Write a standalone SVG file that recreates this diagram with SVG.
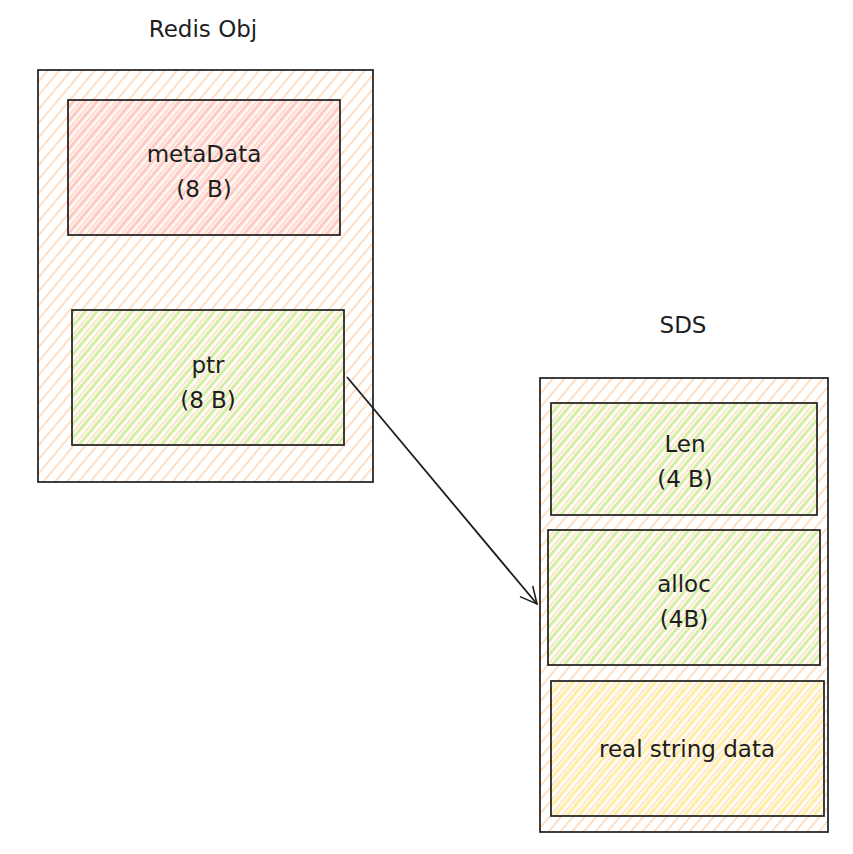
<svg xmlns="http://www.w3.org/2000/svg" width="853" height="854" viewBox="0 0 853 854">
<defs>
<pattern id="hOrange" width="9" height="9" patternUnits="userSpaceOnUse" patternTransform="rotate(40)">
<line x1="0" y1="0" x2="0" y2="9" stroke="#ffd7b5" stroke-width="3.2"/>
</pattern>
<pattern id="hRed" width="9" height="9" patternUnits="userSpaceOnUse" patternTransform="rotate(40)">
<rect width="9" height="9" fill="#fff5f2"/>
<line x1="0" y1="0" x2="0" y2="9" stroke="#ffd6c0" stroke-width="3"/>
<line x1="4.5" y1="0" x2="4.5" y2="9" stroke="#ffcac6" stroke-width="3"/>
</pattern>
<pattern id="hGreen" width="9" height="9" patternUnits="userSpaceOnUse" patternTransform="rotate(40)">
<rect width="9" height="9" fill="#fbfff4"/>
<line x1="0" y1="0" x2="0" y2="9" stroke="#ffdcc0" stroke-width="3"/>
<line x1="4.5" y1="0" x2="4.5" y2="9" stroke="#d4eea8" stroke-width="3"/>
</pattern>
<pattern id="hYellow" width="9" height="9" patternUnits="userSpaceOnUse" patternTransform="rotate(40)">
<rect width="9" height="9" fill="#fffdf2"/>
<line x1="0" y1="0" x2="0" y2="9" stroke="#ffdfc6" stroke-width="3"/>
<line x1="4.5" y1="0" x2="4.5" y2="9" stroke="#ffeda3" stroke-width="3"/>
</pattern>
<marker id="arr" viewBox="0 0 20 20" refX="18" refY="10" markerWidth="20" markerHeight="20" markerUnits="userSpaceOnUse" orient="auto">
<path d="M2 2 L18 10 L2 18" fill="none" stroke="#1e1e1e" stroke-width="1.6" stroke-linecap="round"/>
</marker>
</defs>
<style>
.box{stroke:#1e1e1e;stroke-width:1.7;}
.lbl{font-family:"DejaVu Sans","Liberation Sans",sans-serif;font-size:23px;fill:#1e1e1e;text-anchor:middle;}
.ttl{font-family:"DejaVu Sans","Liberation Sans",sans-serif;font-size:23px;fill:#1e1e1e;text-anchor:middle;}
</style>
<rect width="853" height="854" fill="#ffffff"/>
<g id="redis-obj">
<rect class="box" x="38" y="70" width="335" height="412" fill="url(#hOrange)"/>
<text class="ttl" x="203" y="37">Redis Obj</text>
</g>
<g id="metadata">
<rect class="box" x="68" y="100" width="272" height="135" fill="url(#hRed)"/>
<text class="lbl" x="204" y="162">metaData</text>
<text class="lbl" x="204" y="197">(8 B)</text>
</g>
<g id="ptr">
<rect class="box" x="72" y="310" width="272" height="135" fill="url(#hGreen)"/>
<text class="lbl" x="208" y="373">ptr</text>
<text class="lbl" x="208" y="408">(8 B)</text>
</g>
<g id="sds">
<rect class="box" x="540" y="378" width="288" height="454" fill="url(#hOrange)"/>
<text class="ttl" x="683" y="333">SDS</text>
</g>
<g id="len">
<rect class="box" x="551" y="403" width="266" height="112" fill="url(#hGreen)"/>
<text class="lbl" x="685" y="452">Len</text>
<text class="lbl" x="685" y="487">(4 B)</text>
</g>
<g id="alloc">
<rect class="box" x="548" y="530" width="272" height="135" fill="url(#hGreen)"/>
<text class="lbl" x="684" y="592">alloc</text>
<text class="lbl" x="684" y="627">(4B)</text>
</g>
<g id="real-string-data">
<rect class="box" x="551" y="681" width="273" height="135" fill="url(#hYellow)"/>
<text class="lbl" x="687" y="757">real string data</text>
</g>
<g id="connectors">
<line x1="347" y1="377" x2="537" y2="604" stroke="#1e1e1e" stroke-width="1.8" marker-end="url(#arr)"/>
</g>
</svg>
